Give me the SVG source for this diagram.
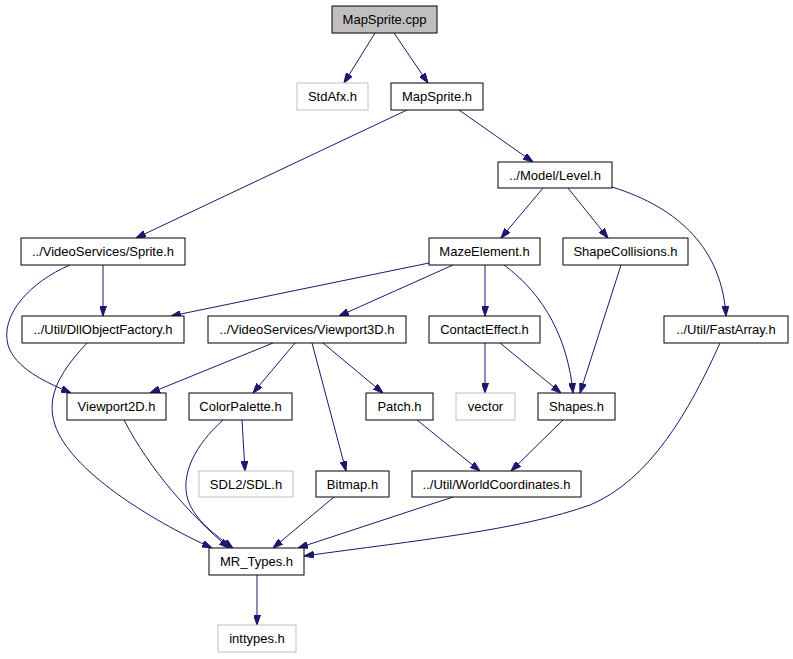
<svg xmlns="http://www.w3.org/2000/svg" width="793" height="659" viewBox="0 0 793 659">
<style>
.n rect{fill:#fff;stroke:#000;stroke-width:1}
.n.g rect{stroke:#bfbfbf}
.n.cur rect{fill:#bfbfbf}
.n text{font-family:"Liberation Sans",Arial,sans-serif;font-size:13px;text-anchor:middle;fill:#000}
.e path{fill:none;stroke:#191970;stroke-width:1;marker-end:url(#a)}
</style>
<defs>
<marker id="a" viewBox="0 0 10 7" refX="10" refY="3.5" markerWidth="10" markerHeight="7" markerUnits="userSpaceOnUse" orient="auto">
<path d="M0,0 L10,3.5 L0,7 Z" fill="#191970" stroke="#191970"/>
</marker>
</defs>
<rect width="793" height="659" fill="#fff"/>
<g class="e" id="edges">
<path d="M375,33 L344,83"/>
<path d="M394,33 L428,83"/>
<path d="M407,110 L136,238"/>
<path d="M459,110 L533,162"/>
<path d="M543,188 L501,238"/>
<path d="M568,188 L608,238"/>
<path d="M612,187 C680,208 722,250 726,316"/>
<path d="M429,263 L171,316"/>
<path d="M453,265 L339,316"/>
<path d="M485,265 L485,316"/>
<path d="M504,265 C545,295 568,340 573,393"/>
<path d="M621,265 L580,393"/>
<path d="M103,265 L103,316"/>
<path d="M70,265 C30,282 0,315 8,345 C15,368 45,382 71,393"/>
<path d="M87,343 C62,370 45,395 55,425 C70,470 150,520 212,548"/>
<path d="M124,420 C150,470 190,515 229,548"/>
<path d="M223,420 C195,445 180,475 188,500 C195,520 215,535 233,548"/>
<path d="M273,343 L150,393"/>
<path d="M295,343 L253,393"/>
<path d="M312,343 L346,471"/>
<path d="M323,343 L383,393"/>
<path d="M485,343 L485,393"/>
<path d="M500,343 L561,393"/>
<path d="M417,420 L480,471"/>
<path d="M563,420 L511,471"/>
<path d="M242,420 L245,471"/>
<path d="M334,497 L273,548"/>
<path d="M453,497 L298,548"/>
<path d="M720,343 C690,410 650,480 590,505 C520,530 420,540 304,556"/>
<path d="M257,575 L257,625"/>
</g>
<g class="n cur" id="MapSprite_cpp"><rect x="332" y="6" width="105" height="27"/><text x="384.5" y="24">MapSprite.cpp</text></g>
<g class="n g" id="StdAfx_h"><rect x="297" y="83" width="71" height="27"/><text x="332.5" y="101">StdAfx.h</text></g>
<g class="n" id="MapSprite_h"><rect x="391" y="83" width="92" height="27"/><text x="437" y="101">MapSprite.h</text></g>
<g class="n" id="Level_h"><rect x="498" y="162" width="114" height="26"/><text x="555" y="180">../Model/Level.h</text></g>
<g class="n" id="Sprite_h"><rect x="21" y="238" width="164" height="27"/><text x="103" y="256">../VideoServices/Sprite.h</text></g>
<g class="n" id="MazeElement_h"><rect x="429" y="238" width="111" height="27"/><text x="484.5" y="256">MazeElement.h</text></g>
<g class="n" id="ShapeCollisions_h"><rect x="563" y="238" width="125" height="27"/><text x="625.5" y="256">ShapeCollisions.h</text></g>
<g class="n" id="DllObjectFactory_h"><rect x="22" y="316" width="162" height="27"/><text x="103" y="334">../Util/DllObjectFactory.h</text></g>
<g class="n" id="Viewport3D_h"><rect x="208" y="316" width="198" height="27"/><text x="307" y="334">../VideoServices/Viewport3D.h</text></g>
<g class="n" id="ContactEffect_h"><rect x="429" y="316" width="111" height="27"/><text x="484.5" y="334">ContactEffect.h</text></g>
<g class="n" id="FastArray_h"><rect x="664" y="316" width="124" height="27"/><text x="726" y="334">../Util/FastArray.h</text></g>
<g class="n" id="Viewport2D_h"><rect x="67" y="393" width="99" height="27"/><text x="116.5" y="411">Viewport2D.h</text></g>
<g class="n" id="ColorPalette_h"><rect x="189" y="393" width="103" height="27"/><text x="240.5" y="411">ColorPalette.h</text></g>
<g class="n" id="Patch_h"><rect x="366" y="393" width="67" height="27"/><text x="399.5" y="411">Patch.h</text></g>
<g class="n g" id="vector"><rect x="456" y="393" width="59" height="27"/><text x="485.5" y="411">vector</text></g>
<g class="n" id="Shapes_h"><rect x="538" y="393" width="77" height="27"/><text x="576.5" y="411">Shapes.h</text></g>
<g class="n g" id="SDL_h"><rect x="199" y="471" width="94" height="26"/><text x="246" y="489">SDL2/SDL.h</text></g>
<g class="n" id="Bitmap_h"><rect x="316" y="471" width="73" height="26"/><text x="352.5" y="489">Bitmap.h</text></g>
<g class="n" id="WorldCoordinates_h"><rect x="412" y="471" width="169" height="26"/><text x="496.5" y="489">../Util/WorldCoordinates.h</text></g>
<g class="n" id="MR_Types_h"><rect x="209" y="548" width="95" height="27"/><text x="256.5" y="566">MR_Types.h</text></g>
<g class="n g" id="inttypes_h"><rect x="218" y="625" width="78" height="27"/><text x="257" y="643">inttypes.h</text></g>
</svg>
